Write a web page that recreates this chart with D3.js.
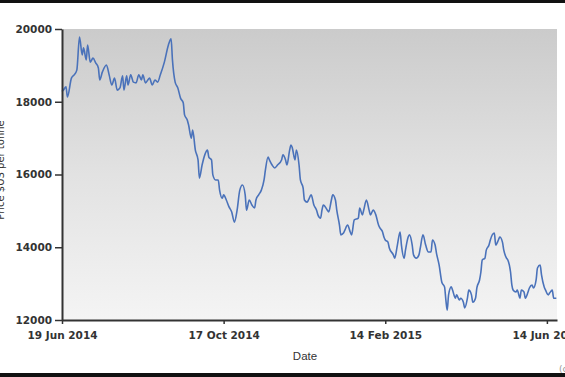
<!DOCTYPE html>
<html><head><meta charset="utf-8">
<script src="https://cdn.jsdelivr.net/npm/d3@7"></script>
<style>html,body{margin:0;padding:0;background:#fff;overflow:hidden}</style>
</head><body>
<svg id="chart" width="565" height="377"></svg>
<script>
const dates = ["2014-06-19","2014-06-20","2014-06-22","2014-06-23","2014-06-26","2014-06-28","2014-06-30","2014-07-02","2014-07-04","2014-07-05","2014-07-07","2014-07-08","2014-07-10","2014-07-12","2014-07-14","2014-07-16","2014-07-17","2014-07-19","2014-07-22","2014-07-24","2014-07-26","2014-07-28","2014-07-30","2014-08-01","2014-08-03","2014-08-04","2014-08-06","2014-08-07","2014-08-09","2014-08-11","2014-08-13","2014-08-15","2014-08-17","2014-08-18","2014-08-20","2014-08-23","2014-08-25","2014-08-27","2014-08-29","2014-08-31","2014-09-03","2014-09-06","2014-09-08","2014-09-09","2014-09-11","2014-09-13","2014-09-15","2014-09-17","2014-09-18","2014-09-20","2014-09-21","2014-09-23","2014-09-24","2014-09-26","2014-09-28","2014-09-29","2014-10-01","2014-10-03","2014-10-05","2014-10-06","2014-10-08","2014-10-09","2014-10-11","2014-10-13","2014-10-14","2014-10-16","2014-10-17","2014-10-19","2014-10-21","2014-10-23","2014-10-25","2014-10-27","2014-10-29","2014-10-31","2014-11-02","2014-11-03","2014-11-05","2014-11-07","2014-11-09","2014-11-10","2014-11-12","2014-11-14","2014-11-16","2014-11-17","2014-11-19","2014-11-20","2014-11-22","2014-11-24","2014-11-26","2014-11-29","2014-11-30","2014-12-02","2014-12-03","2014-12-05","2014-12-06","2014-12-07","2014-12-09","2014-12-10","2014-12-12","2014-12-13","2014-12-15","2014-12-16","2014-12-18","2014-12-19","2014-12-21","2014-12-23","2014-12-25","2014-12-26","2014-12-28","2014-12-29","2014-12-30","2015-01-02","2015-01-03","2015-01-05","2015-01-06","2015-01-08","2015-01-09","2015-01-11","2015-01-12","2015-01-14","2015-01-15","2015-01-17","2015-01-19","2015-01-20","2015-01-22","2015-01-25","2015-01-26","2015-01-28","2015-01-29","2015-01-31","2015-02-02","2015-02-03","2015-02-05","2015-02-07","2015-02-09","2015-02-10","2015-02-12","2015-02-13","2015-02-14","2015-02-16","2015-02-17","2015-02-20","2015-02-21","2015-02-23","2015-02-25","2015-02-26","2015-02-28","2015-03-01","2015-03-03","2015-03-04","2015-03-06","2015-03-07","2015-03-09","2015-03-11","2015-03-12","2015-03-14","2015-03-16","2015-03-18","2015-03-20","2015-03-21","2015-03-23","2015-03-24","2015-03-26","2015-03-28","2015-03-30","2015-03-31","2015-04-01","2015-04-02","2015-04-04","2015-04-05","2015-04-07","2015-04-08","2015-04-10","2015-04-11","2015-04-13","2015-04-14","2015-04-16","2015-04-17","2015-04-19","2015-04-20","2015-04-22","2015-04-23","2015-04-25","2015-04-26","2015-04-27","2015-04-29","2015-04-30","2015-05-02","2015-05-03","2015-05-06","2015-05-07","2015-05-09","2015-05-10","2015-05-12","2015-05-13","2015-05-15","2015-05-16","2015-05-18","2015-05-19","2015-05-20","2015-05-22","2015-05-23","2015-05-25","2015-05-26","2015-05-28","2015-05-29","2015-05-31","2015-06-01","2015-06-03","2015-06-04","2015-06-06","2015-06-07","2015-06-09","2015-06-10","2015-06-12","2015-06-13","2015-06-15","2015-06-16","2015-06-18","2015-06-19","2015-06-21"];
const prices = [18280,18320,18410,18130,18650,18740,18870,19780,19290,19480,19150,19560,19090,19200,19070,18930,18600,18820,19010,18740,18460,18650,18320,18380,18710,18320,18710,18460,18740,18540,18520,18740,18600,18740,18520,18650,18460,18600,18540,18740,19090,19560,19730,19150,18540,18380,18100,17970,17640,17500,17360,17000,17220,16670,16400,15900,16260,16540,16670,16480,16400,15990,15850,15850,15570,15350,15440,15300,15110,14970,14690,15020,15570,15710,15440,15020,15300,15160,15080,15300,15440,15570,15850,16120,16480,16400,16260,16180,16260,16400,16540,16400,16260,16670,16810,16730,16400,16670,16260,15850,15630,15300,15240,15300,15440,15160,15020,14890,14800,15020,15160,15020,14970,15300,15440,15300,15020,14610,14340,14390,14470,14610,14420,14340,14750,14800,15080,14890,15020,15300,15020,14890,15020,14890,14610,14530,14420,14280,14200,14140,13980,13790,13700,14060,14420,14060,13700,13920,14280,14340,14060,13790,13700,13790,13980,14340,14060,13870,13870,14200,14060,13840,13510,13040,12910,12550,12270,12690,12910,12820,12600,12690,12550,12600,12490,12330,12600,12820,12690,12490,12600,12880,13100,13320,13650,13700,13920,14060,14200,14390,14060,14200,14280,14140,13920,13700,13650,13320,12960,12820,12770,12820,12600,12820,12770,12600,12770,12880,12960,12880,13100,13430,13510,13240,12910,12820,12690,12740,12820,12600,12600];
const xTickDates = ["2014-06-19","2014-10-17","2015-02-14","2015-06-14"];
const yTicks = [12000,14000,16000,18000,20000];
const xTitle = "Date";
const yTitle = "Price $US per tonne";

const parse = d3.timeParse("%Y-%m-%d");
const data = dates.map((d,i)=>({date:parse(d), value:prices[i]}));

const svg = d3.select("#chart");
const L=62, R=557, T=29, B=320;

svg.append("rect").attr("x",0).attr("y",0).attr("width",565).attr("height",3).attr("fill","#111");
svg.append("rect").attr("x",0).attr("y",373).attr("width",565).attr("height",4).attr("fill","#111");

const defs = svg.append("defs");
const grad = defs.append("linearGradient").attr("id","bg").attr("x1",0).attr("y1",0).attr("x2",0).attr("y2",1);
grad.append("stop").attr("offset","0%").attr("stop-color","#cbcbcb");
grad.append("stop").attr("offset","50%").attr("stop-color","#e2e2e2");
grad.append("stop").attr("offset","100%").attr("stop-color","#f4f4f4");
svg.append("rect").attr("x",L).attr("y",T).attr("width",R-L).attr("height",B-T).attr("fill","url(#bg)");

const x = d3.scaleTime().domain([parse("2014-06-19"), new Date(2015,5,21,12)]).range([L,R]);
const y = d3.scaleLinear().domain([12000,20000]).range([B,T]);

const line = d3.line().x(d=>x(d.date)).y(d=>y(d.value)).curve(d3.curveMonotoneX);
svg.append("path").datum(data).attr("d",line).attr("fill","none")
  .attr("stroke","#4a72ba").attr("stroke-width",1.6).attr("stroke-linejoin","round");

const fmt = d3.timeFormat("%d %b %Y");
const xAxis = svg.append("g").attr("transform",`translate(0,${B})`)
  .call(d3.axisBottom(x).tickValues(xTickDates.map(parse)).tickFormat(fmt).tickSize(4).tickSizeOuter(0).tickPadding(8));
const yAxis = svg.append("g").attr("transform",`translate(${L},0)`)
  .call(d3.axisLeft(y).tickValues(yTicks).tickFormat(d3.format("d")).tickSize(7).tickSizeOuter(0).tickPadding(3));

[xAxis,yAxis].forEach(g=>{
  g.select(".domain").attr("stroke","#333").attr("stroke-width",2);
  g.selectAll(".tick line").attr("stroke","#333").attr("stroke-width",1.5);
  g.selectAll(".tick text").attr("fill","#333").style("font-family","DejaVu Sans").style("font-weight","bold").style("font-size","10.5px");
});

svg.append("text").attr("x",305).attr("y",360).attr("text-anchor","middle")
  .style("font-family","Liberation Sans").style("font-size","11.5px").attr("fill","#333").text(xTitle);
svg.append("text").attr("transform","translate(4,170) rotate(-90)").attr("text-anchor","middle")
  .style("font-family","DejaVu Sans").style("font-size","10px").attr("fill","#333").text(yTitle);
svg.append("text").attr("x",559).attr("y",372)
  .style("font-family","DejaVu Sans").style("font-size","9px").attr("fill","#999").text("(c)");
</script>
</body></html>
